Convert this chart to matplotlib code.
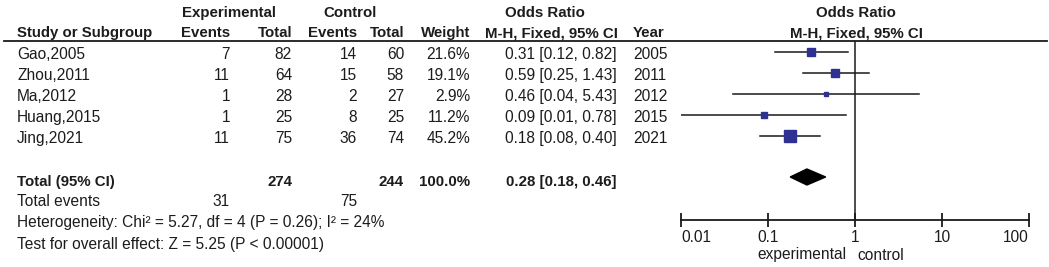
import numpy as np
import matplotlib
matplotlib.use("Agg")
import matplotlib.pyplot as plt
from matplotlib.patches import Polygon
from matplotlib.ticker import FixedLocator, FixedFormatter, NullLocator

plt.rcParams['font.family'] = ['Liberation Sans', 'DejaVu Sans']

# study data
studies = ["Gao,2005", "Zhou,2011", "Ma,2012", "Huang,2015", "Jing,2021"]
exp_events = [7, 11, 1, 1, 11]
exp_total = [82, 64, 28, 25, 75]
ctl_events = [14, 15, 2, 8, 36]
ctl_total = [60, 58, 27, 25, 74]
weights = [21.6, 19.1, 2.9, 11.2, 45.2]
odds = [0.31, 0.59, 0.46, 0.09, 0.18]
ci_low = [0.12, 0.25, 0.04, 0.01, 0.08]
ci_high = [0.82, 1.43, 5.43, 0.78, 0.40]
years = [2005, 2011, 2012, 2015, 2021]

# pooled result
pooled_or = 0.28
pooled_low = 0.18
pooled_high = 0.46
heterogeneity = "Heterogeneity: Chi\u00b2 = 5.27, df = 4 (P = 0.26); I\u00b2 = 24%"
overall = "Test for overall effect: Z = 5.25 (P < 0.00001)"

tick_vals = [0.01, 0.1, 1, 10, 100]
tick_labels = ["0.01", "0.1", "1", "10", "100"]

W, H = 1049, 267
fig = plt.figure(figsize=(W / 100, H / 100), dpi=100)
ax = fig.add_axes([0, 0, 1, 1])
ax.set_xlim(0, W)
ax.set_ylim(H, 0)
ax.axis("off")

txt = "#1c1c1c"
fs = 11.2   # regular text
fb = 10.8   # bold headers
blue = "#2E3192"

# headers
hy1, hy2 = 13, 33
ax.text(229, hy1, "Experimental", ha="center", va="center", fontsize=fb, fontweight="bold", color=txt)
ax.text(350, hy1, "Control", ha="center", va="center", fontsize=fb, fontweight="bold", color=txt)
ax.text(545, hy1, "Odds Ratio", ha="center", va="center", fontsize=fb, fontweight="bold", color=txt)
ax.text(856, hy1, "Odds Ratio", ha="center", va="center", fontsize=fb, fontweight="bold", color=txt)
ax.text(17, hy2, "Study or Subgroup", ha="left", va="center", fontsize=fb, fontweight="bold", color=txt)
ax.text(230, hy2, "Events", ha="right", va="center", fontsize=fb, fontweight="bold", color=txt)
ax.text(292, hy2, "Total", ha="right", va="center", fontsize=fb, fontweight="bold", color=txt)
ax.text(357, hy2, "Events", ha="right", va="center", fontsize=fb, fontweight="bold", color=txt)
ax.text(404, hy2, "Total", ha="right", va="center", fontsize=fb, fontweight="bold", color=txt)
ax.text(470, hy2, "Weight", ha="right", va="center", fontsize=fb, fontweight="bold", color=txt)
ax.text(551, hy2, "M-H, Fixed, 95% CI", ha="center", va="center", fontsize=fb, fontweight="bold", color=txt)
ax.text(633, hy2, "Year", ha="left", va="center", fontsize=fb, fontweight="bold", color=txt)
ax.text(856, hy2, "M-H, Fixed, 95% CI", ha="center", va="center", fontsize=fb, fontweight="bold", color=txt)
ax.plot([4, 1047], [41, 41], color="#1a1a1a", lw=1.3)

# study rows
row0, step = 52, 21
for i, name in enumerate(studies):
    y = row0 + i * step + 2.5
    ax.text(17, y, name, ha="left", va="center", fontsize=fs, color=txt)
    ax.text(230, y, str(exp_events[i]), ha="right", va="center", fontsize=fs, color=txt)
    ax.text(292, y, str(exp_total[i]), ha="right", va="center", fontsize=fs, color=txt)
    ax.text(357, y, str(ctl_events[i]), ha="right", va="center", fontsize=fs, color=txt)
    ax.text(404, y, str(ctl_total[i]), ha="right", va="center", fontsize=fs, color=txt)
    ax.text(470, y, f"{weights[i]:.1f}%", ha="right", va="center", fontsize=fs, color=txt)
    ax.text(617, y, f"{odds[i]:.2f} [{ci_low[i]:.2f}, {ci_high[i]:.2f}]", ha="right", va="center", fontsize=fs, color=txt)
    ax.text(633, y, str(years[i]), ha="left", va="center", fontsize=fs, color=txt)

# totals
ty = 182
ax.text(17, ty, "Total (95% CI)", ha="left", va="center", fontsize=fb, fontweight="bold", color=txt)
ax.text(292, ty, str(sum(exp_total)), ha="right", va="center", fontsize=fb, fontweight="bold", color=txt)
ax.text(404, ty, str(sum(ctl_total)), ha="right", va="center", fontsize=fb, fontweight="bold", color=txt)
ax.text(470, ty, f"{sum(weights):.1f}%", ha="right", va="center", fontsize=fb, fontweight="bold", color=txt)
ax.text(617, ty, f"{pooled_or:.2f} [{pooled_low:.2f}, {pooled_high:.2f}]", ha="right", va="center",
        fontsize=fb, fontweight="bold", color=txt)
ax.text(17, 202, "Total events", ha="left", va="center", fontsize=fs, color=txt)
ax.text(230, 202, str(sum(exp_events)), ha="right", va="center", fontsize=fs, color=txt)
ax.text(357, 202, str(sum(ctl_events)), ha="right", va="center", fontsize=fs, color=txt)
ax.text(17, 223, heterogeneity, ha="left", va="center", fontsize=fs, color=txt)
ax.text(17, 244, overall, ha="left", va="center", fontsize=fs, color=txt)

# forest panel, log scale
x0, x1 = 681, 1029
fa = fig.add_axes([x0 / W, 0, (x1 - x0) / W, 1])
fa.set_xscale("log")
fa.set_xlim(tick_vals[0], tick_vals[-1])
fa.set_ylim(H, 0)
fa.patch.set_alpha(0)
for s in ["top", "left", "right"]:
    fa.spines[s].set_visible(False)
fa.spines["bottom"].set_position(("data", 220))
fa.spines["bottom"].set_linewidth(1.3)
fa.spines["bottom"].set_color("#1a1a1a")
fa.yaxis.set_visible(False)
fa.xaxis.set_major_locator(FixedLocator(tick_vals))
fa.xaxis.set_major_formatter(FixedFormatter(tick_labels))
fa.xaxis.set_minor_locator(NullLocator())
fa.tick_params(axis="x", direction="inout", length=10, width=1.3, color="#1a1a1a",
               labelsize=fs, labelcolor=txt, pad=2)
labs = fa.get_xticklabels()
labs[0].set_ha("left")
labs[-1].set_ha("right")

fa.vlines(1, 41, 220, color="#1a1a1a", lw=1.1)
for i in range(len(studies)):
    y = row0 + i * step
    fa.plot([ci_low[i], ci_high[i]], [y, y], color="#1a1a1a", lw=1.1)
    side = 1.8 * np.sqrt(weights[i]) * 0.72
    fa.plot(odds[i], y, marker="s", ms=side, color=blue, mec=blue, lw=0)

dy = 177
diamond = Polygon([(pooled_low, dy), (pooled_or, dy - 8), (pooled_high, dy), (pooled_or, dy + 8)],
                  closed=True, facecolor="black", edgecolor="black")
fa.add_patch(diamond)

fa.text(0.8, 255, "experimental", ha="right", va="center", fontsize=fs, color=txt)
fa.text(1.06, 255, "control", ha="left", va="center", fontsize=fs, color=txt)

fig.savefig("out.png", dpi=100)
